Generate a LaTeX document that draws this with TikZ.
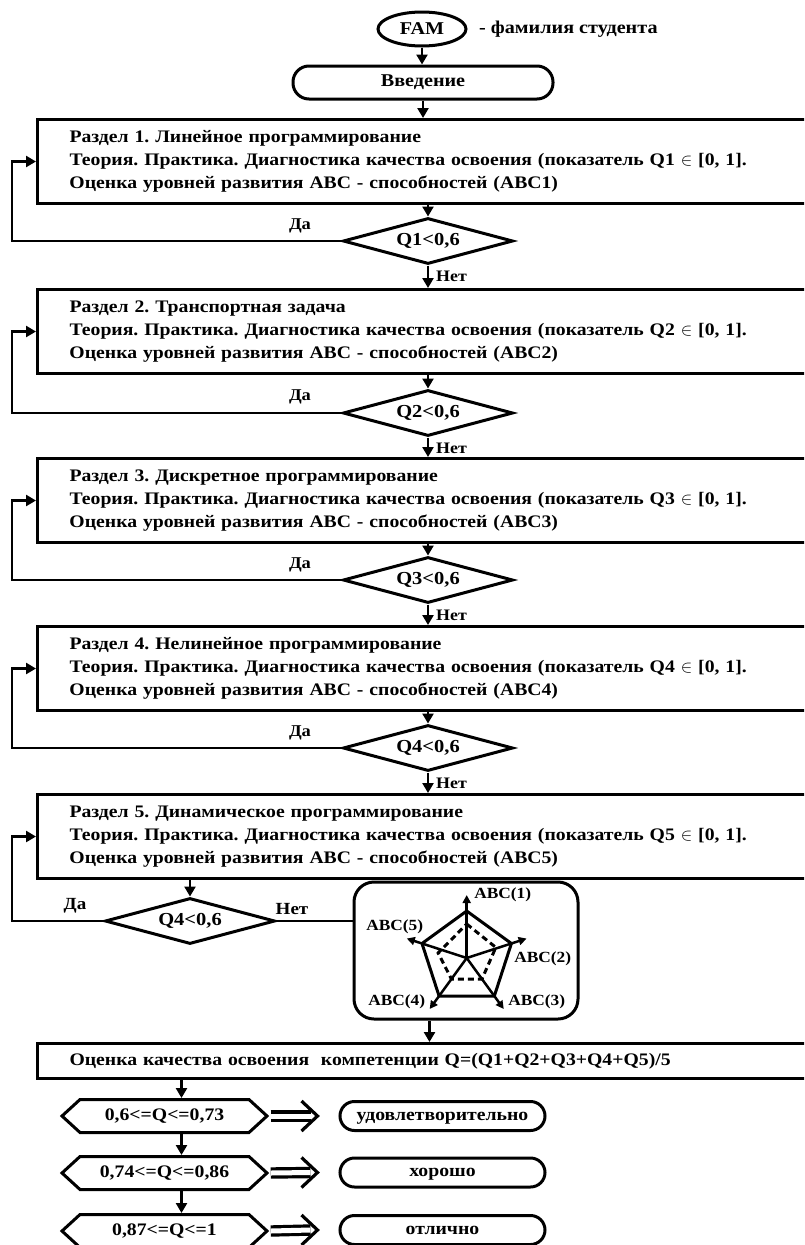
\documentclass[tikz,border=0pt]{standalone}
\usepackage{fontspec}
\setmainfont{Liberation Serif}[FakeStretch=1.12]
\usetikzlibrary{shapes.geometric,shapes.symbols,arrows.meta,calc}
\begin{document}
\frenchspacing
\begin{tikzpicture}[x=1pt,y=-1pt,
  every node/.style={font=\bfseries\fontsize{17.6}{23}\selectfont, inner sep=0pt},
  box/.style={draw, line width=3pt},
  sect/.style={box, rectangle, anchor=north west, minimum width=784pt, minimum height=84pt, text width=720pt, align=left, inner xsep=32pt},
  dia/.style={box, diamond, aspect=3.7, minimum width=170pt, minimum height=46pt, font=\bfseries\fontsize{18.3}{20}\selectfont},
  stad/.style={box, rectangle, rounded corners=14.5pt, minimum width=205pt, minimum height=29pt, text height=12pt, text depth=4pt},
  hexa/.style={box, signal, signal to=west and east, signal pointer angle=85, minimum width=205pt, minimum height=33pt, text height=12pt, text depth=4pt},
  arr/.style={line width=2.5pt, -{Triangle[length=10pt,width=11pt]}},
  lin/.style={line width=2.5pt},
  dblline/.style={line width=3.2pt, double, double distance=5pt},
  chev/.style={line width=3.2pt, line join=miter},
  dalbl/.style={font=\bfseries\fontsize{16.5}{18}\selectfont},
  netlbl/.style={font=\bfseries\fontsize{16}{18}\selectfont},
  lbl/.style={font=\bfseries\fontsize{17}{20}\selectfont},
  big/.style={font=\bfseries\fontsize{18}{20}\selectfont},
  small/.style={font=\bfseries\fontsize{15.5}{16}\selectfont}
]
\useasboundingbox (0,0) rectangle (804,1245);
\clip (0,0) rectangle (804,1245);

% top
\node[box, ellipse, minimum width=88pt, minimum height=34pt, big] (fam) at (422,29) {FAM};
\node[big, anchor=west] (famtxt) at (479,29) {- фамилия студента};
\node[box, rectangle, rounded corners=16pt, minimum width=260pt, minimum height=33pt, big, text height=12pt, text depth=4pt] (intro) at (423,82.5) {Введение};
\draw[arr] (fam.south) -- (fam.south |- intro.north);

% sections
\node[sect] (s1) at (36,118) {Раздел 1. Линейное программирование\\
Теория. Практика. Диагностика качества освоения (показатель Q1 $\in$ [0, 1].\\
Оценка уровней развития ABC - способностей (ABC1)};
\node[sect] (s2) at (36,288) {Раздел 2. Транспортная задача\\
Теория. Практика. Диагностика качества освоения (показатель Q2 $\in$ [0, 1].\\
Оценка уровней развития ABC - способностей (ABC2)};
\node[sect] (s3) at (36,457) {Раздел 3. Дискретное программирование\\
Теория. Практика. Диагностика качества освоения (показатель Q3 $\in$ [0, 1].\\
Оценка уровней развития ABC - способностей (ABC3)};
\node[sect] (s4) at (36,625) {Раздел 4. Нелинейное программирование\\
Теория. Практика. Диагностика качества освоения (показатель Q4 $\in$ [0, 1].\\
Оценка уровней развития ABC - способностей (ABC4)};
\node[sect] (s5) at (36,793) {Раздел 5. Динамическое программирование\\
Теория. Практика. Диагностика качества освоения (показатель Q5 $\in$ [0, 1].\\
Оценка уровней развития ABC - способностей (ABC5)};

\draw[arr] (intro.south) -- (intro.south |- s1.north);

% decisions 1-4
\node[dia] (d1) at (428,241) {Q1<0,6};
\node[dia] (d2) at (428,413) {Q2<0,6};
\node[dia] (d3) at (428,580) {Q3<0,6};
\node[dia] (d4) at (428,748) {Q4<0,6};

\draw[arr] (d1.north |- s1.south) -- (d1.north);
\draw[arr] (d2.north |- s2.south) -- (d2.north);
\draw[arr] (d3.north |- s3.south) -- (d3.north);
\draw[arr] (d4.north |- s4.south) -- (d4.north);
\draw[arr] (d1.south) -- (d1.south |- s2.north);
\draw[arr] (d2.south) -- (d2.south |- s3.north);
\draw[arr] (d3.south) -- (d3.south |- s4.north);
\draw[arr] (d4.south) -- (d4.south |- s5.north);

\draw[arr] (d1.west) -| ([xshift=-24pt]s1.west) -- (s1.west);
\draw[arr] (d2.west) -| ([xshift=-24pt]s2.west) -- (s2.west);
\draw[arr] (d3.west) -| ([xshift=-24pt]s3.west) -- (s3.west);
\draw[arr] (d4.west) -| ([xshift=-24pt]s4.west) -- (s4.west);

\node[dalbl] (da1) at (300,226) {Да};
\node[dalbl] (da2) at (300,397) {Да};
\node[dalbl] (da3) at (300,565) {Да};
\node[dalbl] (da4) at (300,733) {Да};
\node[netlbl, anchor=west] (net1) at (436,276) {Нет};
\node[netlbl, anchor=west] (net2) at (436,448) {Нет};
\node[netlbl, anchor=west] (net3) at (436,615) {Нет};
\node[netlbl, anchor=west] (net4) at (436,783) {Нет};

% decision 5
\node[dia] (d5) at (190,921) {Q4<0,6};
\draw[arr] (d5.north |- s5.south) -- (d5.north);
\draw[arr] (d5.west) -| ([xshift=-24pt]s5.west) -- (s5.west);
\node[lbl] (da5) at (75,906) {Да};
\node[lbl] (net5) at (292,909) {Нет};

% radar box
\node[box, rectangle, rounded corners=20pt, minimum width=224pt, minimum height=137pt] (radar) at (466,950.5) {};
\draw[lin] (d5.east) -- (d5.east -| radar.west);

\coordinate (C) at (466.7,958);
\begin{scope}[shift={(C)}, y=1pt]
  \draw[line width=3pt, line join=round] (90:47) -- (18:47) -- (-54:47) -- (-126:47) -- (162:47) -- cycle;
  \draw[line width=3pt, dash pattern=on 6pt off 4pt] (90:34) -- (20:31) -- (-54:26) -- (-126:26) -- (170:29) -- cycle;
  \foreach \a in {90,18,-54,-126,162}
    \draw[line width=2.5pt, -{Triangle[length=8pt,width=8pt]}] (0,0) -- (\a:63);
  \node[small] (abc1) at (36,63) {ABC(1)};
  \node[small] (abc2) at (76,-1) {ABC(2)};
  \node[small] (abc3) at (70,-44) {ABC(3)};
  \node[small] (abc4) at (-70,-44) {ABC(4)};
  \node[small] (abc5) at (-72,31) {ABC(5)};
\end{scope}

% final box
\node[box, rectangle, anchor=north west, minimum width=784pt, minimum height=35pt, text width=720pt, align=left, inner xsep=31pt] (fin) at (36,1042) {Оценка качества освоения\ \ компетенции Q=(Q1+Q2+Q3+Q4+Q5)/5};
\draw[arr] (radar.south -| fin.north) -- (fin.north);

% grading
\node[hexa] (h1) at (164.5,1116) {0,6<=Q<=0,73};
\node[hexa] (h2) at (164.5,1173) {0,74<=Q<=0,86};
\node[hexa] (h3) at (164.5,1231) {0,87<=Q<=1};
\node[stad] (r1) at (442.5,1116) {удовлетворительно};
\node[stad] (r2) at (442.5,1172.5) {хорошо};
\node[stad] (r3) at (442.5,1230) {отлично};

\draw[arr] ([xshift=17pt]h1.north |- fin.south) -- ([xshift=17pt]h1.north);
\draw[arr] ([xshift=17pt]h1.south) -- ([xshift=17pt]h2.north);
\draw[arr] ([xshift=17pt]h2.south) -- ([xshift=17pt]h3.north);

\coordinate (t1) at ([xshift=-21pt]r1.west);
\coordinate (t2) at ([xshift=-21pt]r2.west);
\coordinate (t3) at ([xshift=-21pt]r3.west);
\draw[dblline] ([xshift=1.5pt]h1.east) -- ([xshift=-7pt]t1);
\draw[dblline] ([xshift=1.5pt]h2.east) -- ([xshift=-7pt]t2);
\draw[dblline] ([xshift=1.5pt]h3.east) -- ([xshift=-7pt]t3);
\draw[chev] ([shift={(-16,-15)}]t1) -- (t1) -- ([shift={(-16,15)}]t1);
\draw[chev] ([shift={(-16,-15)}]t2) -- (t2) -- ([shift={(-16,15)}]t2);
\draw[chev] ([shift={(-16,-15)}]t3) -- (t3) -- ([shift={(-16,15)}]t3);
\end{tikzpicture}
\end{document}
